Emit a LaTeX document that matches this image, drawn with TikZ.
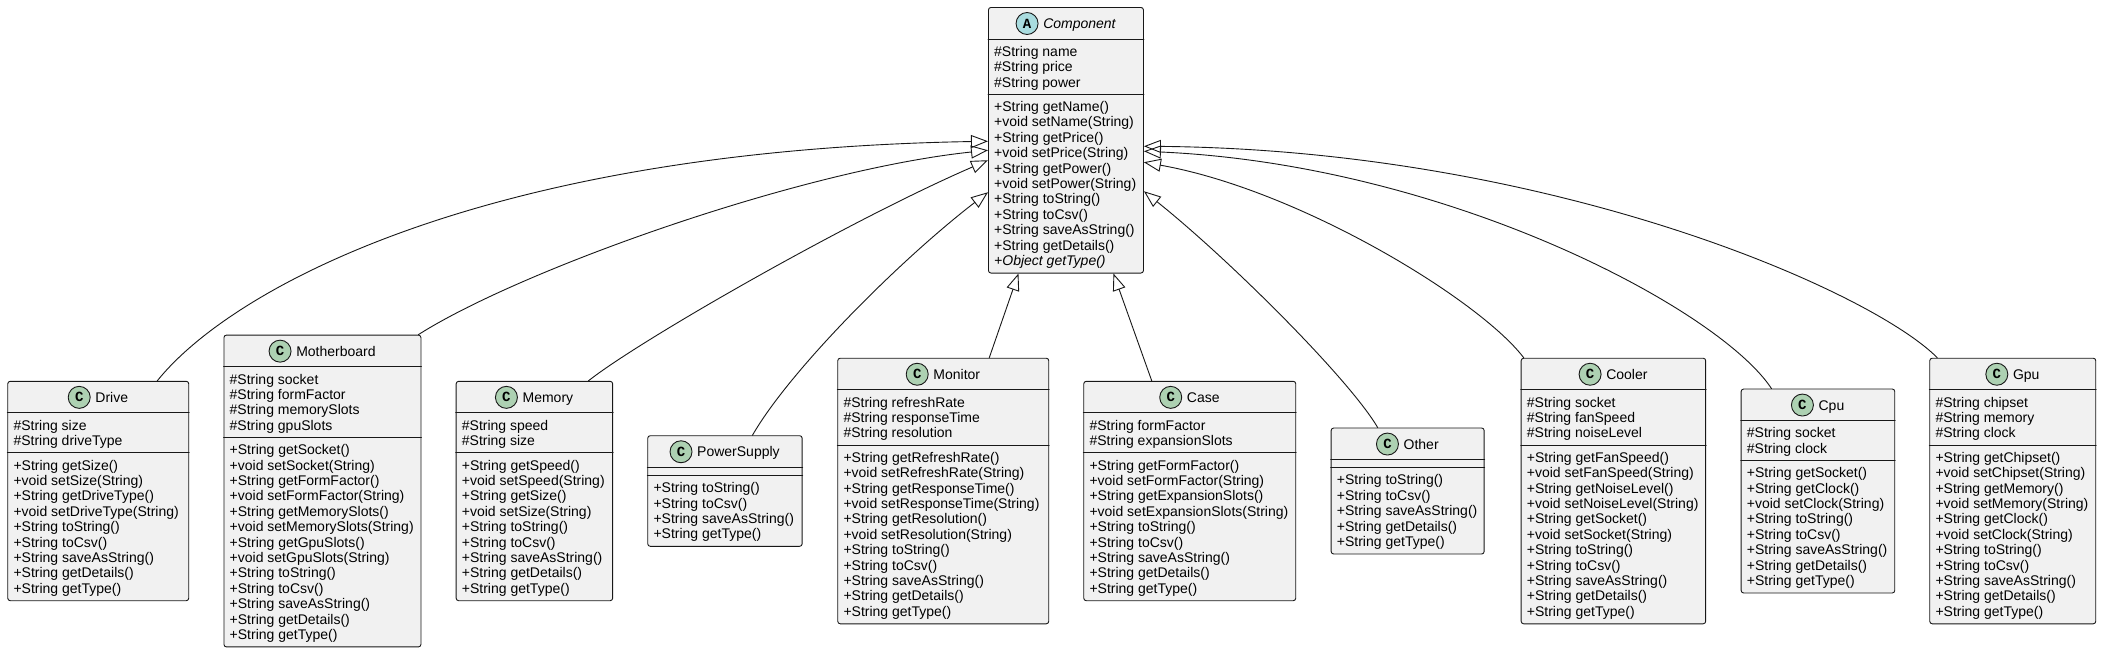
\documentclass[tikz,border=0pt]{standalone}
\usepackage{fontspec}
\setmainfont{Liberation Sans}
\setmonofont{Liberation Mono}
\usetikzlibrary{arrows.meta}
\definecolor{boxgray}{HTML}{F1F1F1}
\definecolor{linegray}{HTML}{181818}
\definecolor{classgreen}{HTML}{ADD1B2}
\definecolor{abstractblue}{HTML}{A9DCDF}

\begin{document}
\begin{tikzpicture}[x=1pt,y=-1pt, line cap=round, line join=round]

\tikzset{
  cls/.style={draw=linegray, fill=boxgray, rounded corners=2.5pt, line width=0.9pt, inner sep=0pt},
  cname/.style={font=\fontsize{14}{16}\selectfont, inner sep=0pt, anchor=base},
  icon/.style={circle, draw=linegray, line width=0.9pt, fill=classgreen, minimum size=22pt, inner sep=0pt, font=\ttfamily\bfseries\fontsize{14}{14}\selectfont},
  members/.style={font=\fontsize{14}{15.4}\selectfont, align=left, inner sep=0pt, anchor=north west},
  divider/.style={draw=linegray, line width=0.9pt},
  extends/.style={draw=linegray, line width=0.9pt, -{Triangle[open, length=17pt, width=13pt]}}
}

\fill[white] (0,0) rectangle (2101,653);
\useasboundingbox (0,0) rectangle (2101,653);

% abstract parent
\node[cls, minimum width=155pt, minimum height=265.6pt, anchor=north west] (comp) at (988,7) {};
\node[cname] (comp-n) at ([xshift=13.5pt,yshift=-21.5pt]comp.north) {\itshape Component};
\node[icon, fill=abstractblue] (comp-i) at ([xshift=-16pt,yshift=5pt]comp-n.base west) {A};
\draw[divider] ([yshift=-32pt]comp.north west) -- ([yshift=-32pt]comp.north east);
\draw[divider] ([yshift=-87.2pt]comp.north west) -- ([yshift=-87.2pt]comp.north east);
\node[members] (comp-a) at ([xshift=6pt,yshift=-39pt]comp.north west) {\#String name\\\#String price\\\#String power};
\node[members] (comp-m) at ([xshift=6pt,yshift=-94.2pt]comp.north west) {+String getName()\\+void setName(String)\\+String getPrice()\\+void setPrice(String)\\+String getPower()\\+void setPower(String)\\+String toString()\\+String toCsv()\\+String saveAsString()\\+String getDetails()\\\textit{+Object getType()}};

% subclasses, left to right
\node[cls, minimum width=181pt, minimum height=219.4pt, anchor=west] (drive) at (7.3,491) {};
\node[cname] (drive-n) at ([xshift=13.5pt,yshift=-21.5pt]drive.north) {Drive};
\node[icon] (drive-i) at ([xshift=-16pt,yshift=5pt]drive-n.base west) {C};
\draw[divider] ([yshift=-32pt]drive.north west) -- ([yshift=-32pt]drive.north east);
\draw[divider] ([yshift=-71.8pt]drive.north west) -- ([yshift=-71.8pt]drive.north east);
\node[members] (drive-a) at ([xshift=6pt,yshift=-39pt]drive.north west) {\#String size\\\#String driveType};
\node[members] (drive-m) at ([xshift=6pt,yshift=-78.8pt]drive.north west) {+String getSize()\\+void setSize(String)\\+String getDriveType()\\+void setDriveType(String)\\+String toString()\\+String toCsv()\\+String saveAsString()\\+String getDetails()\\+String getType()};

\node[cls, minimum width=197pt, minimum height=311.8pt, anchor=west] (mobo) at (223.5,491) {};
\node[cname] (mobo-n) at ([xshift=13.5pt,yshift=-21.5pt]mobo.north) {Motherboard};
\node[icon] (mobo-i) at ([xshift=-16pt,yshift=5pt]mobo-n.base west) {C};
\draw[divider] ([yshift=-32pt]mobo.north west) -- ([yshift=-32pt]mobo.north east);
\draw[divider] ([yshift=-102.6pt]mobo.north west) -- ([yshift=-102.6pt]mobo.north east);
\node[members] (mobo-a) at ([xshift=6pt,yshift=-39pt]mobo.north west) {\#String socket\\\#String formFactor\\\#String memorySlots\\\#String gpuSlots};
\node[members] (mobo-m) at ([xshift=6pt,yshift=-109.6pt]mobo.north west) {+String getSocket()\\+void setSocket(String)\\+String getFormFactor()\\+void setFormFactor(String)\\+String getMemorySlots()\\+void setMemorySlots(String)\\+String getGpuSlots()\\+void setGpuSlots(String)\\+String toString()\\+String toCsv()\\+String saveAsString()\\+String getDetails()\\+String getType()};

\node[cls, minimum width=156.5pt, minimum height=219.4pt, anchor=west] (mem) at (455.7,491) {};
\node[cname] (mem-n) at ([xshift=13.5pt,yshift=-21.5pt]mem.north) {Memory};
\node[icon] (mem-i) at ([xshift=-16pt,yshift=5pt]mem-n.base west) {C};
\draw[divider] ([yshift=-32pt]mem.north west) -- ([yshift=-32pt]mem.north east);
\draw[divider] ([yshift=-71.8pt]mem.north west) -- ([yshift=-71.8pt]mem.north east);
\node[members] (mem-a) at ([xshift=6pt,yshift=-39pt]mem.north west) {\#String speed\\\#String size};
\node[members] (mem-m) at ([xshift=6pt,yshift=-78.8pt]mem.north west) {+String getSpeed()\\+void setSpeed(String)\\+String getSize()\\+void setSize(String)\\+String toString()\\+String toCsv()\\+String saveAsString()\\+String getDetails()\\+String getType()};

\node[cls, minimum width=154.4pt, minimum height=110.6pt, anchor=west] (psu) at (647.3,491) {};
\node[cname] (psu-n) at ([xshift=13.5pt,yshift=-21.5pt]psu.north) {PowerSupply};
\node[icon] (psu-i) at ([xshift=-16pt,yshift=5pt]psu-n.base west) {C};
\draw[divider] ([yshift=-32pt]psu.north west) -- ([yshift=-32pt]psu.north east);
\draw[divider] ([yshift=-40pt]psu.north west) -- ([yshift=-40pt]psu.north east);
\node[members] (psu-m) at ([xshift=6pt,yshift=-47pt]psu.north west) {+String toString()\\+String toCsv()\\+String saveAsString()\\+String getType()};

\node[cls, minimum width=211pt, minimum height=265.6pt, anchor=west] (mon) at (837.3,491) {};
\node[cname] (mon-n) at ([xshift=13.5pt,yshift=-21.5pt]mon.north) {Monitor};
\node[icon] (mon-i) at ([xshift=-16pt,yshift=5pt]mon-n.base west) {C};
\draw[divider] ([yshift=-32pt]mon.north west) -- ([yshift=-32pt]mon.north east);
\draw[divider] ([yshift=-87.2pt]mon.north west) -- ([yshift=-87.2pt]mon.north east);
\node[members] (mon-a) at ([xshift=6pt,yshift=-39pt]mon.north west) {\#String refreshRate\\\#String responseTime\\\#String resolution};
\node[members] (mon-m) at ([xshift=6pt,yshift=-94.2pt]mon.north west) {+String getRefreshRate()\\+void setRefreshRate(String)\\+String getResponseTime()\\+void setResponseTime(String)\\+String getResolution()\\+void setResolution(String)\\+String toString()\\+String toCsv()\\+String saveAsString()\\+String getDetails()\\+String getType()};

\node[cls, minimum width=212pt, minimum height=219.4pt, anchor=west] (case) at (1083.3,491) {};
\node[cname] (case-n) at ([xshift=13.5pt,yshift=-21.5pt]case.north) {Case};
\node[icon] (case-i) at ([xshift=-16pt,yshift=5pt]case-n.base west) {C};
\draw[divider] ([yshift=-32pt]case.north west) -- ([yshift=-32pt]case.north east);
\draw[divider] ([yshift=-71.8pt]case.north west) -- ([yshift=-71.8pt]case.north east);
\node[members] (case-a) at ([xshift=6pt,yshift=-39pt]case.north west) {\#String formFactor\\\#String expansionSlots};
\node[members] (case-m) at ([xshift=6pt,yshift=-78.8pt]case.north west) {+String getFormFactor()\\+void setFormFactor(String)\\+String getExpansionSlots()\\+void setExpansionSlots(String)\\+String toString()\\+String toCsv()\\+String saveAsString()\\+String getDetails()\\+String getType()};

\node[cls, minimum width=153pt, minimum height=126pt, anchor=west] (other) at (1330.7,491) {};
\node[cname] (other-n) at ([xshift=13.5pt,yshift=-21.5pt]other.north) {Other};
\node[icon] (other-i) at ([xshift=-16pt,yshift=5pt]other-n.base west) {C};
\draw[divider] ([yshift=-32pt]other.north west) -- ([yshift=-32pt]other.north east);
\draw[divider] ([yshift=-40pt]other.north west) -- ([yshift=-40pt]other.north east);
\node[members] (other-m) at ([xshift=6pt,yshift=-47pt]other.north west) {+String toString()\\+String toCsv()\\+String saveAsString()\\+String getDetails()\\+String getType()};

\node[cls, minimum width=184.5pt, minimum height=265.6pt, anchor=west] (cooler) at (1520.7,491) {};
\node[cname] (cooler-n) at ([xshift=13.5pt,yshift=-21.5pt]cooler.north) {Cooler};
\node[icon] (cooler-i) at ([xshift=-16pt,yshift=5pt]cooler-n.base west) {C};
\draw[divider] ([yshift=-32pt]cooler.north west) -- ([yshift=-32pt]cooler.north east);
\draw[divider] ([yshift=-87.2pt]cooler.north west) -- ([yshift=-87.2pt]cooler.north east);
\node[members] (cooler-a) at ([xshift=6pt,yshift=-39pt]cooler.north west) {\#String socket\\\#String fanSpeed\\\#String noiseLevel};
\node[members] (cooler-m) at ([xshift=6pt,yshift=-94.2pt]cooler.north west) {+String getFanSpeed()\\+void setFanSpeed(String)\\+String getNoiseLevel()\\+void setNoiseLevel(String)\\+String getSocket()\\+void setSocket(String)\\+String toString()\\+String toCsv()\\+String saveAsString()\\+String getDetails()\\+String getType()};

\node[cls, minimum width=153.6pt, minimum height=204pt, anchor=west] (cpu) at (1740.7,491) {};
\node[cname] (cpu-n) at ([xshift=13.5pt,yshift=-21.5pt]cpu.north) {Cpu};
\node[icon] (cpu-i) at ([xshift=-16pt,yshift=5pt]cpu-n.base west) {C};
\draw[divider] ([yshift=-32pt]cpu.north west) -- ([yshift=-32pt]cpu.north east);
\draw[divider] ([yshift=-71.8pt]cpu.north west) -- ([yshift=-71.8pt]cpu.north east);
\node[members] (cpu-a) at ([xshift=6pt,yshift=-39pt]cpu.north west) {\#String socket\\\#String clock};
\node[members] (cpu-m) at ([xshift=6pt,yshift=-78.8pt]cpu.north west) {+String getSocket()\\+String getClock()\\+void setClock(String)\\+String toString()\\+String toCsv()\\+String saveAsString()\\+String getDetails()\\+String getType()};

\node[cls, minimum width=166pt, minimum height=265.6pt, anchor=west] (gpu) at (1929.3,491) {};
\node[cname] (gpu-n) at ([xshift=13.5pt,yshift=-21.5pt]gpu.north) {Gpu};
\node[icon] (gpu-i) at ([xshift=-16pt,yshift=5pt]gpu-n.base west) {C};
\draw[divider] ([yshift=-32pt]gpu.north west) -- ([yshift=-32pt]gpu.north east);
\draw[divider] ([yshift=-87.2pt]gpu.north west) -- ([yshift=-87.2pt]gpu.north east);
\node[members] (gpu-a) at ([xshift=6pt,yshift=-39pt]gpu.north west) {\#String chipset\\\#String memory\\\#String clock};
\node[members] (gpu-m) at ([xshift=6pt,yshift=-94.2pt]gpu.north west) {+String getChipset()\\+void setChipset(String)\\+String getMemory()\\+void setMemory(String)\\+String getClock()\\+void setClock(String)\\+String toString()\\+String toCsv()\\+String saveAsString()\\+String getDetails()\\+String getType()};

% inheritance
\draw[extends] ([xshift=59pt]drive.north) .. controls (230,290) and (480,150) .. ([yshift=-1pt]comp.west);
\draw[extends] ([xshift=-3pt]mobo.north east) .. controls (520,270) and (800,170) .. ([yshift=-10pt]comp.west);
\draw[extends] ([xshift=54pt]mem.north) .. controls (640,340) and (850,220) .. ([yshift=-20pt]comp.west);
\draw[extends] ([xshift=27.5pt]psu.north) .. controls (790,370) and (900,260) .. ([yshift=-52pt]comp.west);
\draw[extends] ([xshift=46pt]mon.north) -- ([xshift=-47.5pt]comp.south);
\draw[extends] ([xshift=-38pt]case.north) -- ([xshift=47.5pt]comp.south);
\draw[extends] ([xshift=-30pt]other.north) .. controls (1350,380) and (1230,260) .. ([yshift=-51pt]comp.east);
\draw[extends] ([xshift=3pt]cooler.north west) .. controls (1480,300) and (1300,190) .. ([yshift=-22pt]comp.east);
\draw[extends] ([xshift=-46.5pt]cpu.north) .. controls (1720,310) and (1450,165) .. ([yshift=-11pt]comp.east);
\draw[extends] ([xshift=8pt]gpu.north west) .. controls (1870,290) and (1550,150) .. ([yshift=-6pt]comp.east);

\end{tikzpicture}
\end{document}
